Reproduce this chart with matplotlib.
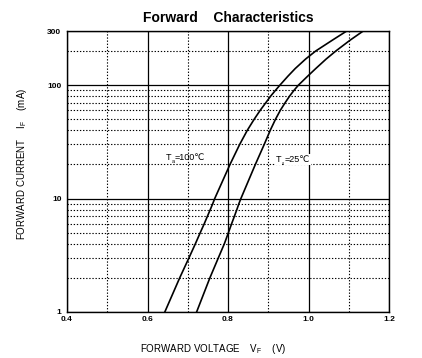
import matplotlib
matplotlib.use("Agg")
import matplotlib.pyplot as plt
from matplotlib.ticker import LogLocator, FixedLocator, NullFormatter

plt.rcParams['font.family'] = ['Liberation Sans', 'DejaVu Sans']
plt.rcParams['mathtext.fontset'] = 'custom'
plt.rcParams['mathtext.rm'] = 'Liberation Sans'
plt.rcParams['mathtext.it'] = 'Liberation Sans'

# Data (forward current in mA vs forward voltage in V)
i_100 = [1, 2, 3, 4, 5, 6, 7, 8, 9, 10, 20, 30, 40, 50, 60, 70, 80, 90, 100,
         120, 140, 170, 200, 250, 300]
v_100 = [0.643, 0.680, 0.703, 0.719, 0.731, 0.741, 0.749, 0.756, 0.762, 0.767,
         0.805, 0.829, 0.848, 0.865, 0.880, 0.894, 0.906, 0.918, 0.929,
         0.949, 0.967, 0.993, 1.018, 1.060, 1.095]
i_25 = [1, 2, 3, 4, 5, 6, 7, 8, 9, 10, 20, 30, 40, 50, 60, 70, 80, 90, 100,
        120, 140, 170, 200, 250, 300]
v_25 = [0.722, 0.755, 0.776, 0.791, 0.801, 0.809, 0.816, 0.822, 0.827, 0.832,
        0.868, 0.890, 0.905, 0.918, 0.930, 0.942, 0.953, 0.964, 0.975,
        0.998, 1.018, 1.044, 1.068, 1.104, 1.136]

x_major = [0.4, 0.6, 0.8, 1.0, 1.2]
x_major_labels = ["0.4", "0.6", "0.8", "1.0", "1.2"]
x_minor = [0.5, 0.7, 0.9, 1.1]
y_major = [1, 10, 100, 300]
y_major_labels = ["1", "10", "100", "300"]

fig = plt.figure(figsize=(4.22, 3.58), dpi=100)
ax = fig.add_axes([67/422, 1-312/358, 322/422, 281/358])

ax.set_xlim(0.4, 1.2)
ax.set_yscale('log')
ax.set_ylim(1, 300)

ax.xaxis.set_major_locator(FixedLocator(x_major))
ax.set_xticklabels(x_major_labels)
ax.xaxis.set_minor_locator(FixedLocator(x_minor))
ax.yaxis.set_major_locator(FixedLocator(y_major))
ax.set_yticklabels(y_major_labels)
ax.yaxis.set_minor_locator(LogLocator(base=10, subs=range(2, 10)))
ax.yaxis.set_minor_formatter(NullFormatter())

ax.grid(which='major', color='black', linewidth=0.9, linestyle='-')
ax.grid(which='minor', color='black', linewidth=0.8, linestyle=(0, (1.2, 1.6)))
ax.set_axisbelow(True)

ax.tick_params(which='both', length=0)
ax.tick_params(axis='x', labelsize=6, pad=3)
ax.tick_params(axis='y', labelsize=6, pad=4)
for lab in ax.get_xticklabels() + ax.get_yticklabels():
    lab.set_fontweight('bold')

for s in ax.spines.values():
    s.set_linewidth(1.0)
    s.set_color('black')

ax.plot(v_100, i_100, color='black', linewidth=1.2, solid_joinstyle='round')
ax.plot(v_25, i_25, color='black', linewidth=1.2, solid_joinstyle='round')


def temp_label(x, y, rest, box=False):
    kw = dict(facecolor='white', edgecolor='none', pad=0.6) if box else None
    t1 = ax.text(x, y, 'T', fontsize=6.5, ha='left', va='center', bbox=kw)
    t2 = ax.annotate('a', xy=(1.0, 0.05), xycoords=t1, fontsize=4, ha='left', va='center')
    ax.annotate(rest, xy=(1.0, 0.5), xycoords=(t2, t1), fontsize=6.5, ha='left',
                va='center', bbox=kw)


temp_label(0.646, 23.2, '=100\u2103')
temp_label(0.919, 22.2, '=25\u2103', box=True)

fig.text(228/422, 1-18/358, 'Forward    Characteristics', fontsize=10, fontweight='bold',
         ha='center', va='center')
fig.text(213/422, 1-349/358, 'FORWARD VOLTAGE    V$_{\\mathrm{F}}$    (V)', fontsize=7,
         ha='center', va='center')
fig.text(22/422, 1-164/358, 'FORWARD CURRENT    I$_{\\mathrm{F}}$    (mA)', fontsize=7,
         ha='center', va='center', rotation=90)

fig.savefig('out.png', dpi=100, facecolor='white')
